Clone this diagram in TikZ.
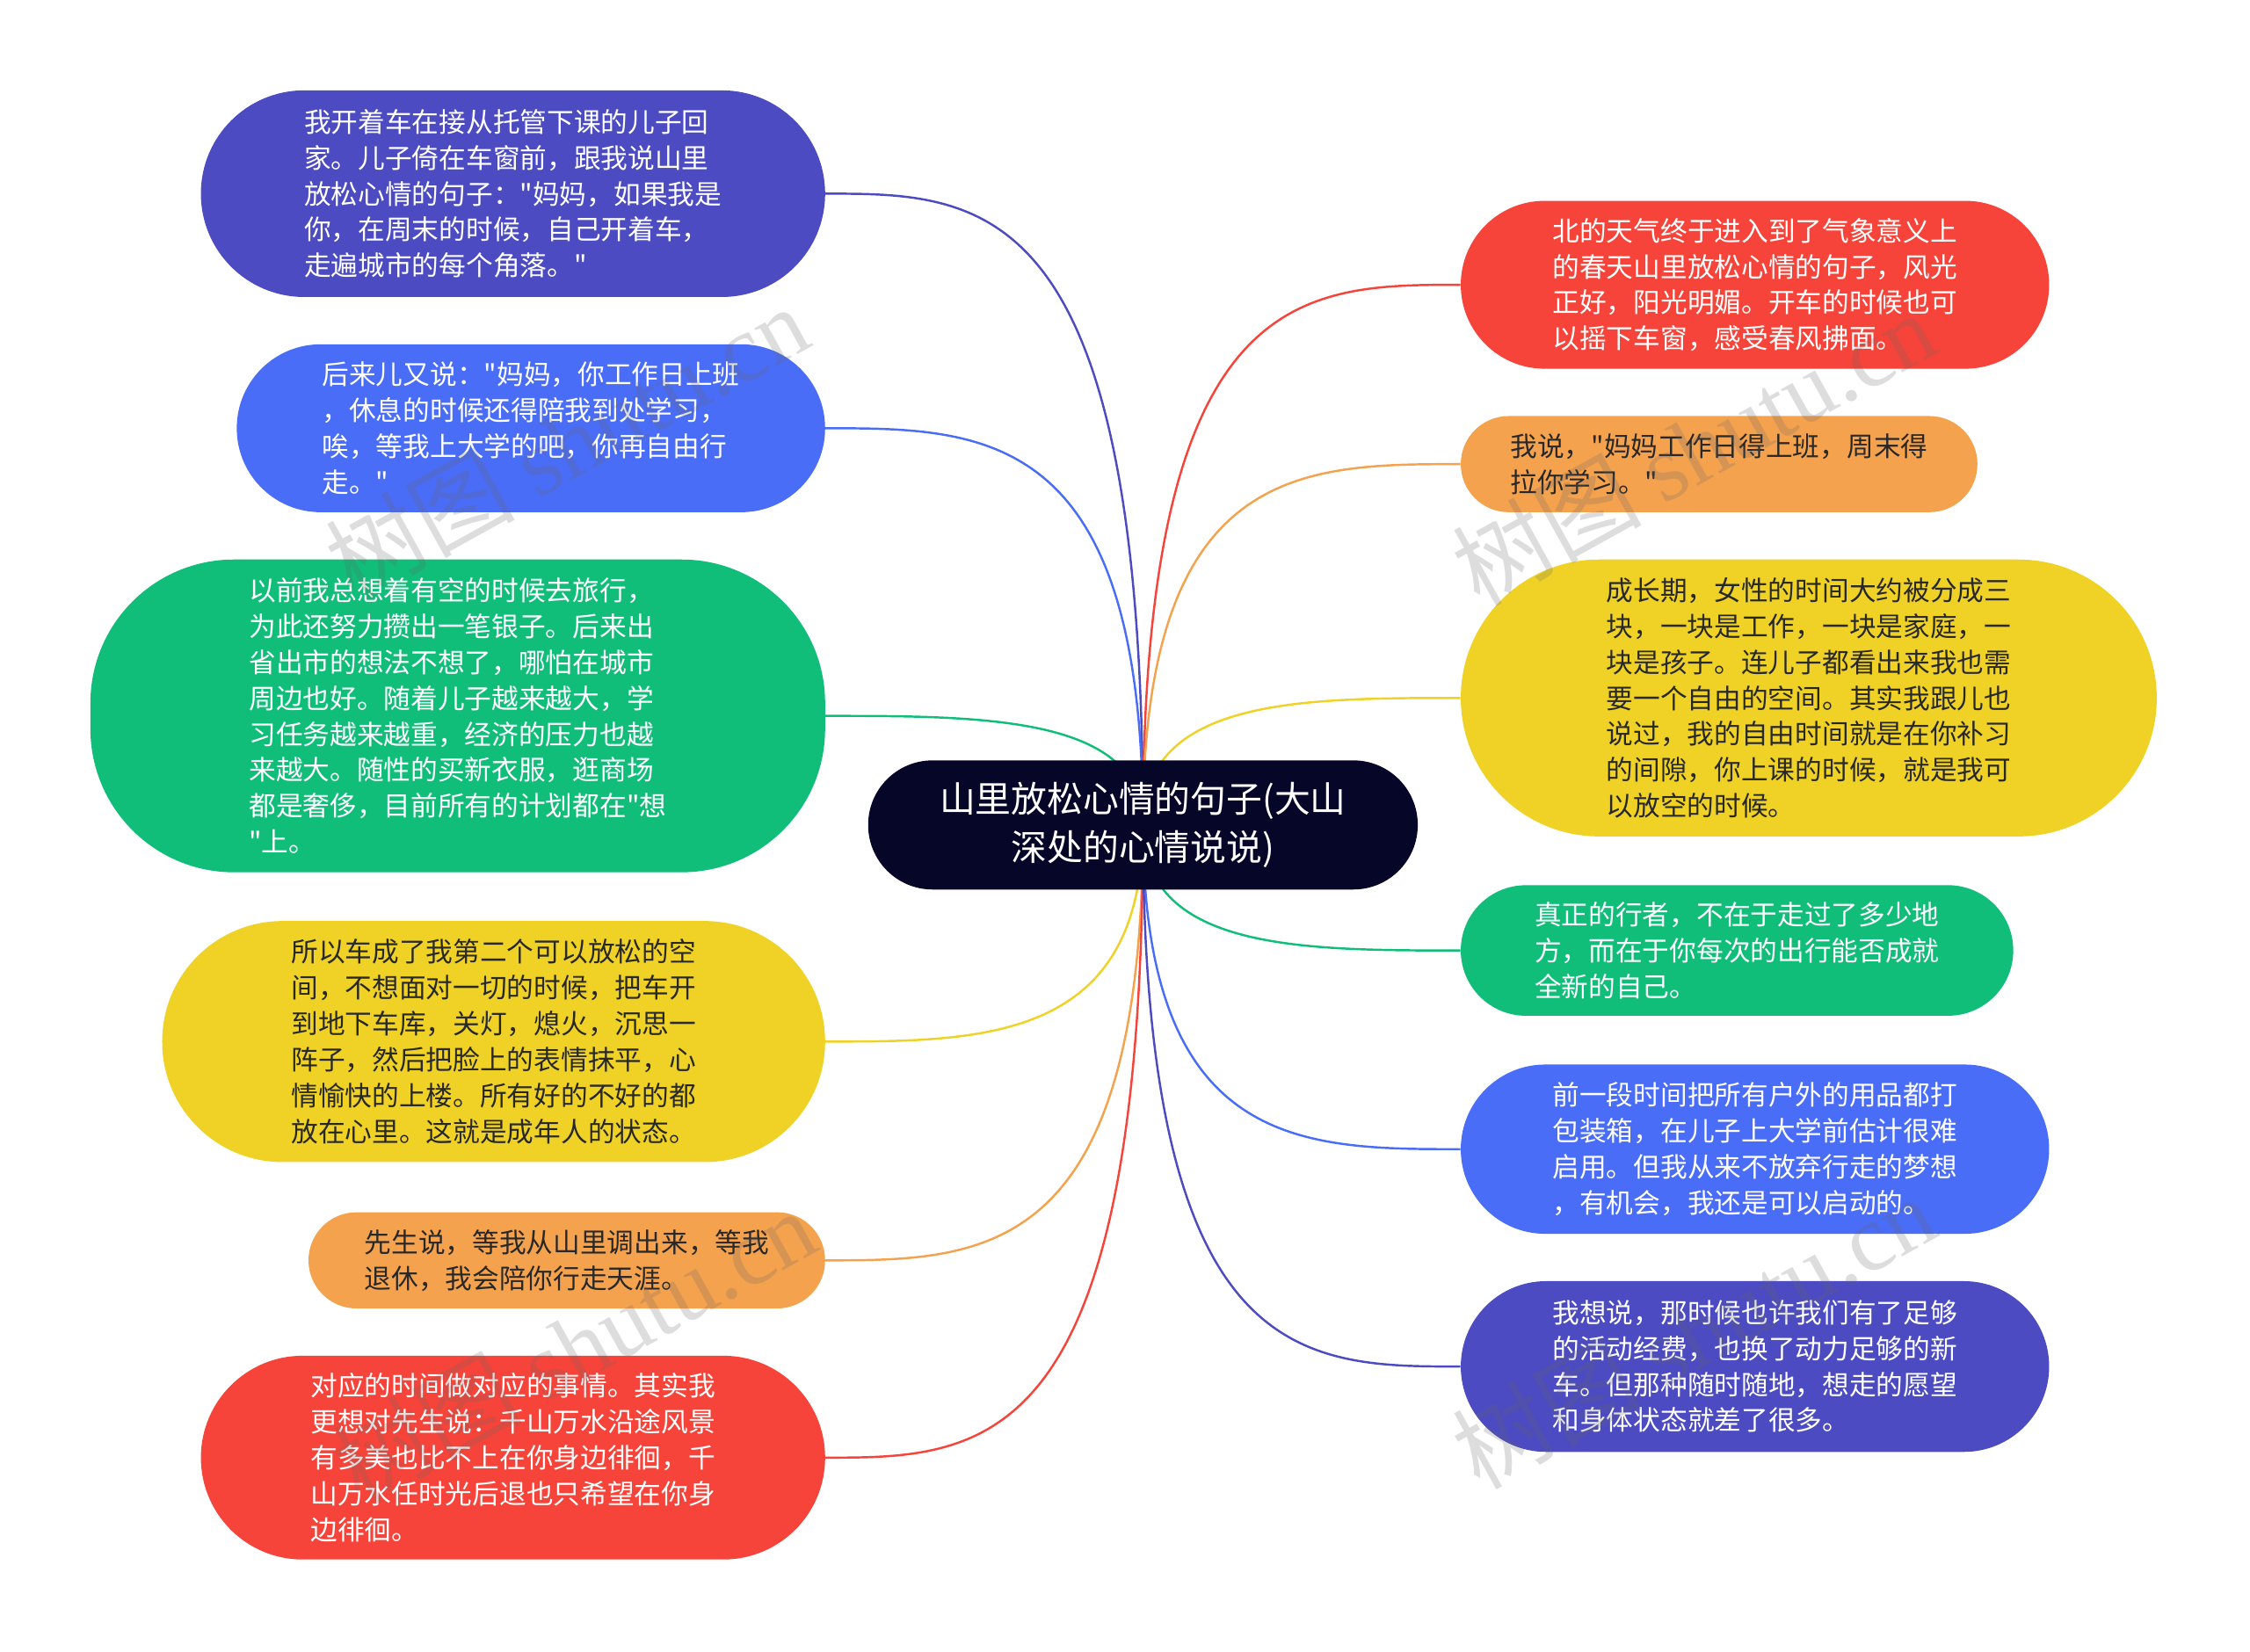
\documentclass[tikz,border=0pt]{standalone}
\usepackage{fontspec}
\newfontfamily\cjkfont{Noto Sans CJK SC}
\newfontfamily\wmfont{Liberation Serif}
\usetikzlibrary{calc,backgrounds}
\definecolor{cpurple}{RGB}{76,75,193}
\definecolor{cblue}{RGB}{74,109,247}
\definecolor{cgreen}{RGB}{16,190,122}
\definecolor{cyellow}{RGB}{240,210,38}
\definecolor{corange}{RGB}{245,162,78}
\definecolor{cred}{RGB}{247,68,58}
\definecolor{croot}{RGB}{6,6,40}
\definecolor{cdark}{RGB}{40,40,40}
\tikzset{
  box/.style={inner sep=0pt, align=left, font=\cjkfont\fontsize{18.8pt}{25pt}\selectfont},
  light/.style={text=white},
  darktext/.style={text=cdark},
  conn/.style={line width=1.5pt},
  wm/.style={rotate=29, text=black!60, opacity=0.22, font=\cjkfont\fontsize{66pt}{66pt}\selectfont}
}
\begin{document}
\begin{tikzpicture}[x=1pt,y=-1pt]
\useasboundingbox (0,0) rectangle (1568,1151);
% root
\node[inner sep=0pt, align=center, text=white, fill=croot, font=\cjkfont\fontsize{25pt}{34pt}\selectfont,
  minimum width=383pt, minimum height=90pt, rounded corners=44.9pt] (root) at (796.5,575)
  {山里放松心情的句子(大山\\深处的心情说说)};
% left nodes
\node[box, light, fill=cpurple, minimum width=435pt, minimum height=144pt, rounded corners=71.9pt] (L1) at (357.5,135)
  {我开着车在接从托管下课的儿子回\\家。儿子倚在车窗前，跟我说山里\\放松心情的句子："妈妈，如果我是\\你，在周末的时候，自己开着车，\\走遍城市的每个角落。"};
\node[box, light, fill=cblue, minimum width=410pt, minimum height=117pt, rounded corners=58.4pt] (L2) at (370,298.5)
  {后来儿又说："妈妈，你工作日上班\\，休息的时候还得陪我到处学习，\\唉，等我上大学的吧，你再自由行\\走。"};
\node[box, light, fill=cgreen, minimum width=512pt, minimum height=218pt, rounded corners=100pt] (L3) at (319,499)
  {以前我总想着有空的时候去旅行，\\为此还努力攒出一笔银子。后来出\\省出市的想法不想了，哪怕在城市\\周边也好。随着儿子越来越大，学\\习任务越来越重，经济的压力也越\\来越大。随性的买新衣服，逛商场\\都是奢侈，目前所有的计划都在"想\\"上。};
\node[box, darktext, fill=cyellow, minimum width=462pt, minimum height=168pt, rounded corners=83.9pt] (L4) at (344,726)
  {所以车成了我第二个可以放松的空\\间，不想面对一切的时候，把车开\\到地下车库，关灯，熄火，沉思一\\阵子，然后把脸上的表情抹平，心\\情愉快的上楼。所有好的不好的都\\放在心里。这就是成年人的状态。};
\node[box, darktext, fill=corange, minimum width=360pt, minimum height=67pt, rounded corners=33.4pt] (L5) at (395,878.5)
  {先生说，等我从山里调出来，等我\\退休，我会陪你行走天涯。};
\node[box, light, fill=cred, minimum width=435pt, minimum height=142pt, rounded corners=70.9pt] (L6) at (357.5,1016)
  {对应的时间做对应的事情。其实我\\更想对先生说：千山万水沿途风景\\有多美也比不上在你身边徘徊，千\\山万水任时光后退也只希望在你身\\边徘徊。};
% right nodes
\node[box, light, fill=cred, minimum width=410pt, minimum height=117pt, rounded corners=58.4pt] (R1) at (1223,198.5)
  {北的天气终于进入到了气象意义上\\的春天山里放松心情的句子，风光\\正好，阳光明媚。开车的时候也可\\以摇下车窗，感受春风拂面。};
\node[box, darktext, fill=corange, minimum width=360pt, minimum height=67pt, rounded corners=33.4pt] (R2) at (1198,323.5)
  {我说，"妈妈工作日得上班，周末得\\拉你学习。"};
\node[box, darktext, fill=cyellow, minimum width=485pt, minimum height=193pt, rounded corners=96.4pt] (R3) at (1260.5,486.5)
  {成长期，女性的时间大约被分成三\\块，一块是工作，一块是家庭，一\\块是孩子。连儿子都看出来我也需\\要一个自由的空间。其实我跟儿也\\说过，我的自由时间就是在你补习\\的间隙，你上课的时候，就是我可\\以放空的时候。};
\node[box, light, fill=cgreen, minimum width=385pt, minimum height=91pt, rounded corners=45.4pt] (R4) at (1210.5,662.5)
  {真正的行者，不在于走过了多少地\\方，而在于你每次的出行能否成就\\全新的自己。};
\node[box, light, fill=cblue, minimum width=410pt, minimum height=118pt, rounded corners=58.9pt] (R5) at (1223,801)
  {前一段时间把所有户外的用品都打\\包装箱，在儿子上大学前估计很难\\启用。但我从来不放弃行走的梦想\\，有机会，我还是可以启动的。};
\node[box, light, fill=cpurple, minimum width=410pt, minimum height=119pt, rounded corners=59.4pt] (R6) at (1223,952.5)
  {我想说，那时候也许我们有了足够\\的活动经费，也换了动力足够的新\\车。但那种随时随地，想走的愿望\\和身体状态就差了很多。};
% connectors
\begin{pgfonlayer}{background}
\fill[white] (0,0) rectangle (1568,1151);
\foreach \n/\c in {L1/cpurple, L2/cblue, L3/cgreen, L4/cyellow, L5/corange, L6/cred}
  \draw[conn, color=\c] (root.center) .. controls ($(root.center |- \n.east)$) and ($(root.center |- \n.east)!0.5!(\n.east)$) .. (\n.east);
\foreach \n/\c in {R1/cred, R2/corange, R3/cyellow, R4/cgreen, R5/cblue, R6/cpurple}
  \draw[conn, color=\c] (root.center) .. controls ($(root.center |- \n.west)$) and ($(root.center |- \n.west)!0.5!(\n.west)$) .. (\n.west);
\end{pgfonlayer}
% watermarks
\node[wm] (wm1) at (395,308) {树图 {\wmfont shutu.cn}};
\node[wm] (wm2) at (1180,312) {树图 {\wmfont shutu.cn}};
\node[wm] (wm3) at (400,938) {树图 {\wmfont shutu.cn}};
\node[wm] (wm4) at (1180,928) {树图 {\wmfont shutu.cn}};
\end{tikzpicture}
\end{document}
